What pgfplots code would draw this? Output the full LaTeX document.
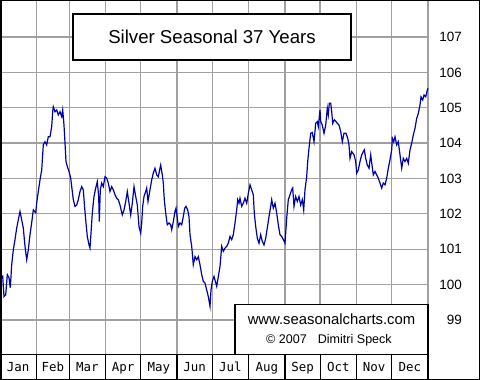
\documentclass[border=0pt]{standalone}
\usepackage{pgfplots}
\pgfplotsset{compat=1.18}
\usepackage{fontspec}
\setmainfont{Liberation Sans}
\newfontfamily\monofont{DejaVu Sans Mono}
\definecolor{gridgray}{RGB}{160,160,160}
\definecolor{linecol}{RGB}{0,0,170}

\begin{document}
\begin{tikzpicture}
\fill[white] (0bp,0bp) rectangle (480bp,380bp);
\begin{axis}[
  at={(0bp,25.5bp)}, anchor=south west,
  scale only axis, width=428bp, height=354.5bp,
  xmin=0, xmax=365, ymin=98.02, ymax=108.05,
  axis line style={draw=none},
  major tick length=0pt,
  xtick={15.5,45,74.5,105,135.5,166,196.5,227.5,258,288.5,319,349.5},
  xticklabels={Jan,Feb,Mar,Apr,May,Jun,Jul,Aug,Sep,Oct,Nov,Dec},
  xticklabel style={font=\monofont\fontsize{12.5}{14}\selectfont, anchor=base, inner sep=0pt, yshift=-17.2bp},
  extra x ticks={31,59,90,120,151,181,212,243,273,304,334,365},
  extra x tick labels={},
  extra x tick style={grid=major},
  xmajorgrids=false,
  ytick={99,100,101,102,103,104,105,106,107},
  ymajorgrids=true,
  grid style={draw=gridgray, line width=1.3bp},
  yticklabel pos=right,
  yticklabel style={font=\fontsize{13.5}{16}\selectfont, anchor=east, inner sep=0pt, xshift=34bp},
  /pgf/number format/assume math mode=true,
  clip=false,
]
\addplot[color=linecol, line width=1.2bp] table {
x y
0 100.09
2.30 100.23
3.41 99.66
4.86 99.71
6.23 100.28
7.68 100.19
8.78 99.91
9.98 100.56
11.34 100.98
12.79 101.27
14.24 101.60
15.61 101.83
17.06 102.07
18.51 101.83
19.87 101.60
21.32 101.08
22.77 100.70
24.13 100.98
25.58 101.41
27.03 101.75
28.40 102.11
30.45 102.03
31.30 102.31
32.66 102.63
34.11 102.96
35.56 103.24
36.93 103.95
38.38 104.04
39.83 103.95
41.19 104.18
42.64 104.18
44.09 104.47
44.94 104.89
45.45 105.03
46.90 104.89
48.35 104.94
49.72 104.80
51.17 104.89
52.62 104.75
53.47 104.94
54.58 104.51
55.43 104.00
56.28 103.48
57.39 103.34
58.84 103.20
60.29 103.01
61.15 102.77
62.51 102.40
63.96 102.21
65.41 102.25
66.77 102.40
68.22 102.63
69.67 102.77
71.04 102.68
71.89 102.30
73.08 101.83
74.45 101.36
75.90 101.12
76.75 101.03
77.60 101.45
78.71 102.02
80.16 102.49
81.61 102.73
82.98 102.91
84.17 102.49
84.68 101.78
85.54 102.68
86.73 102.87
88.10 102.77
89.54 103.05
90.99 103.01
92.36 102.87
93.81 102.63
95.26 102.77
96.62 102.68
98.07 102.54
99.52 102.44
100.89 102.40
102.34 102.25
104.30 101.97
105.75 102.11
107.20 102.35
108.56 102.63
110.01 102.30
111.46 101.97
112.83 102.30
114.28 102.77
115.73 102.49
117.09 102.25
118.54 101.64
119.99 101.45
120.84 101.74
121.69 102.21
122.80 102.49
124.25 102.63
125.10 102.73
126.21 102.35
127.92 102.68
129.37 102.96
130.73 103.15
132.18 103.29
133.63 103.10
135.00 103.05
136.45 103.29
137.04 103.38
138.41 103.10
139.26 102.87
140.11 102.40
141.31 102.02
142.67 101.69
144.12 101.74
145.57 101.69
146.43 101.55
147.79 101.78
149.24 102.07
150.09 102.16
151.20 101.88
152.05 101.64
153.50 101.74
154.95 101.69
156.32 101.92
157.51 102.16
158.62 102.21
160.07 102.11
161.18 101.92
162.03 101.41
163.48 101.08
164.85 100.56
166.30 100.79
167.75 100.70
169.11 100.79
170.56 100.56
172.01 100.28
173.38 100.09
174.82 100.04
176.27 99.85
177.64 99.66
179.09 99.38
179.94 99.85
181.05 100.09
182.50 100.23
184.80 99.95
187.62 100.51
189.06 101.08
190.43 100.94
191.88 101.03
193.33 101.08
194.69 101.17
196.14 101.36
197.59 101.27
198.96 101.41
200.41 101.74
201.86 102.11
202.71 102.40
203.82 102.30
204.67 102.44
206.12 102.21
207.49 102.30
208.94 102.44
210.39 102.30
211.75 102.58
213.20 102.82
214.65 102.68
216.01 102.54
216.87 102.02
218.06 101.64
219.43 101.31
220.88 101.17
222.32 101.41
223.69 101.22
225.14 101.12
226.59 101.31
227.95 101.60
229.40 101.92
230.85 102.21
231.71 102.40
233.07 102.16
234.52 102.30
235.97 102.02
237.34 101.69
238.78 101.41
240.23 101.36
241.60 101.27
243.05 101.17
244.50 101.88
245.86 102.40
247.31 102.54
248.76 102.68
249.62 102.73
250.72 102.21
252.17 102.49
253.54 102.35
254.99 102.49
256.44 102.25
257.80 102.40
259.00 102.11
260.10 102.68
261.55 103.05
262.41 103.48
263.52 103.86
264.96 104.28
266.33 104.30
267.78 104.04
269.23 104.56
270.59 104.61
271.45 104.47
272.90 104.94
273.49 104.61
274.86 104.51
276.31 104.28
277.76 104.51
279.12 104.99
279.97 104.80
280.83 105.13
282.02 105.13
282.87 104.89
283.73 104.56
285.09 104.66
286.54 104.61
287.65 104.56
289.10 104.51
290.55 104.33
291.91 104.04
293.36 104.28
295.07 104.28
296.52 104.14
297.63 103.95
298.48 103.57
299.93 103.76
301.89 103.67
303.34 103.48
304.19 103.15
305.56 103.24
307.01 103.48
308.46 103.67
309.82 103.76
310.67 103.81
311.86 103.57
313.23 103.38
314.68 103.29
316.13 103.67
317.24 103.38
318.35 103.10
319.80 103.20
321.25 103.10
322.61 103.01
324.06 102.87
325.51 102.73
326.88 102.87
328.33 102.82
329.78 103.01
331.14 103.29
332.59 103.53
334.04 103.81
334.55 104.14
335.75 104.04
336.86 104.18
338.31 103.95
339.67 104.04
341.12 103.67
342.57 103.29
343.93 103.57
345.38 103.48
346.83 103.57
348.20 103.43
349.65 103.81
351.10 104.00
352.46 104.23
353.91 104.42
355.36 104.70
356.73 104.84
358.18 105.08
359.03 105.31
360.48 105.22
361.59 105.36
363.04 105.31
364.40 105.50
365.00 105.55
};
\pgfplotsinvokeforeach{31,59,90,120,151,181,212,243,273,304,334}{
  \draw[black, line width=1.2bp] (axis cs:#1,98.02) -- ++(0bp,-25.5bp);
}
\end{axis}
% month row top line and right edge
\draw[black, line width=1.2bp] (0bp,25.5bp) -- (428bp,25.5bp);
% copyright box
\draw[black, fill=white, line width=1.2bp] (235bp,25.5bp) rectangle (428bp,75.7bp);
\node[anchor=base, inner sep=0pt, font=\fontsize{14.9}{17}\selectfont] at (331.5bp,55bp) {www.seasonalcharts.com};
\node[anchor=base, inner sep=0pt, font=\fontsize{12.6}{15}\selectfont] at (329bp,36.7bp) {©~2007\hspace{11bp}Dimitri Speck};
\draw[black, line width=1.2bp] (428bp,0bp) -- (428bp,25.5bp);
% title box
\draw[black, fill=white, line width=1.3bp] (73bp,320bp) rectangle (351bp,366bp);
\node[anchor=center, inner sep=0pt, font=\fontsize{18.7}{22}\selectfont] at (212bp,343bp) {Silver Seasonal 37 Years};
% outer frame
\draw[black, line width=1.5bp] (0.75bp,0.75bp) rectangle (479.25bp,379.25bp);
\pgfresetboundingbox
\path[use as bounding box] (0bp,0bp) rectangle (480bp,380bp);
\end{tikzpicture}
\end{document}
